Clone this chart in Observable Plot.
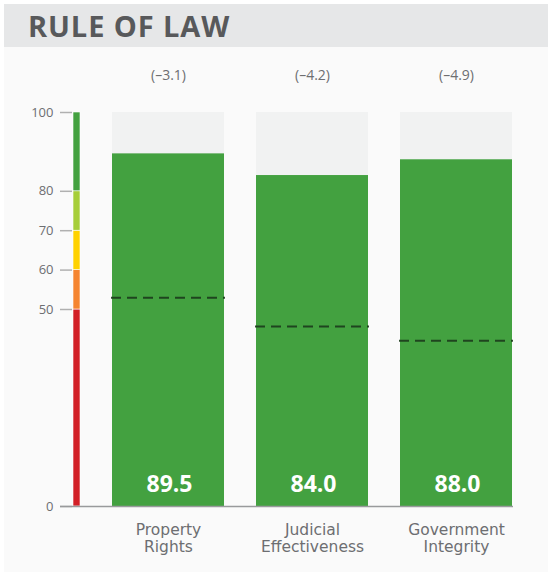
<!DOCTYPE html>
<html>
<head>
<meta charset="utf-8">
<script src="https://cdn.jsdelivr.net/npm/d3@7"></script>
<script src="https://cdn.jsdelivr.net/npm/@observablehq/plot@0.6"></script>
<style>
  html, body { margin: 0; padding: 0; background: #ffffff; width: 548px; height: 572px; overflow: hidden; }
  #wrap { position: absolute; left: 4px; top: 4px; width: 544px; height: 568px; background: #fafafa; }
  #title { position: absolute; left: 4px; top: 4px; width: 544px; height: 43px; background: #e6e7e8;
           font-family: "Open Sans", sans-serif; font-weight: 700; font-size: 29px; color: #58595b;
           line-height: 43px; box-sizing: border-box; padding-left: 24px; letter-spacing: 0.9px; }
  #chart { position: absolute; left: 0; top: 47px; }
  #chart svg { background: transparent; overflow: visible; }
  g[aria-label="cats"] text { font-family: "DejaVu Sans", sans-serif !important; letter-spacing: 0.8px; }
  g[aria-label="values"] text { letter-spacing: 2.2px; }
  g[aria-label="changes"] text { letter-spacing: 0.4px; }
</style>
</head>
<body>
<div id="wrap"></div>
<div id="title">RULE OF LAW</div>
<div id="chart"></div>
<script>
const categories = ["Property Rights", "Judicial Effectiveness", "Government Integrity"];
const categoryLabels = ["Property\nRights", "Judicial\nEffectiveness", "Government\nIntegrity"];
const scores = [89.5, 84.0, 88.0];
const scoreLabels = ["89.5", "84.0", "88.0"];
const changes = ["(–3.1)", "(–4.2)", "(–4.9)"];
const worldAverages = [53.0, 45.7, 42.1];
const maxScore = 100;
const bandLows = [0, 50, 60, 70, 80];
const bandHighs = [50, 60, 70, 80, 100];
const bandColors = ["#d21f26", "#f58530", "#ffd200", "#a6ce39", "#43a140"];
const tickValues = [0, 50, 60, 70, 80, 100];

const rows = categories.map((c, i) => ({
  cat: c, label: categoryLabels[i], score: scores[i], scoreLabel: scoreLabels[i],
  change: changes[i], avg: worldAverages[i], max: maxScore
}));
const bands = bandLows.map((lo, i) => ({lo, hi: bandHighs[i], color: bandColors[i]}));

const W = 548, H = 525;
const plot = Plot.plot({
  width: W,
  height: H,
  marginTop: 65,
  marginBottom: 66,
  marginLeft: 60,
  marginRight: 35,
  style: {background: "transparent", fontFamily: "'Open Sans', sans-serif"},
  x: {type: "band", domain: categories, range: [111, 512], paddingInner: 0.225, paddingOuter: 0, axis: null},
  y: {domain: [0, 100], axis: null},
  marks: [
    // color scale strip
    Plot.rect(bands, {y1: "lo", y2: "hi", fill: "color", insetLeft: 13, insetRight: 433, stroke: "#ffffff", strokeWidth: 0.6}),
    // tick marks
    Plot.tickY(tickValues, {y: d => d, stroke: "#b0b0b0", strokeWidth: 1.5, insetRight: 441}),
    Plot.text(tickValues, {y: d => d, text: d => String(d), frameAnchor: "left", textAnchor: "end", dx: -7,
      fontSize: 13, fill: "#6d6e71"}),
    // background (max) bars
    Plot.barY(rows, {x: "cat", y: "max", fill: "#f1f2f2"}),
    // score bars
    Plot.barY(rows, {x: "cat", y: "score", fill: "#43a140"}),
    // world average dashed lines
    Plot.tickY(rows, {x: "cat", y: "avg", stroke: "#1c3a1c", strokeWidth: 2, strokeDasharray: "10,6",
      insetLeft: -1, insetRight: -1, strokeOpacity: 0.9}),
    // baseline
    Plot.ruleY([0], {stroke: "#999a9c", strokeWidth: 1.5}),
    // score labels
    Plot.text(rows, {x: "cat", y: 0, text: "scoreLabel", dy: -22, dx: 1, fill: "#ffffff", fontSize: 23,
      fontWeight: 700, ariaLabel: "values"}),
    // change labels
    Plot.text(rows, {x: "cat", y: "max", text: "change", dy: -37, fill: "#6d6e71", fontSize: 14, ariaLabel: "changes"}),
    // category labels
    Plot.text(rows, {x: "cat", y: 0, text: "label", lineAnchor: "top", dy: 16, fill: "#6d6e71", fontSize: 15.5,
      fontFamily: "'DejaVu Sans', sans-serif", lineHeight: 1.12, ariaLabel: "cats"})
  ]
});
document.getElementById("chart").appendChild(plot);
</script>
</body>
</html>
